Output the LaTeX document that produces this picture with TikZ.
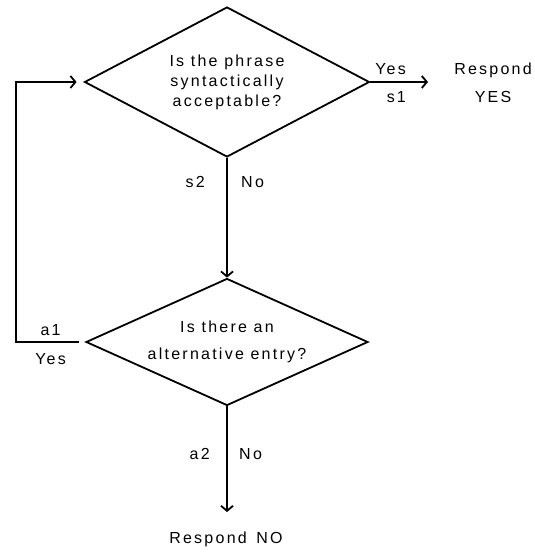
\documentclass[tikz,border=0pt]{standalone}
\usepackage{fontspec}
\setmainfont{Liberation Sans}[LetterSpace=14]
\usepackage{tikz}
\usetikzlibrary{arrows.meta, positioning, shapes.geometric, calc}

\begin{document}
\begin{tikzpicture}[x=1pt, y=1pt, line width=1.8pt, font=\fontsize{16}{20}\selectfont,
  decision/.style={draw, shape=diamond, inner sep=0pt, align=center},
  flow/.style={-{Straight Barb[length=5pt, width=12pt]}}]
  \useasboundingbox (0,0) rectangle (535,-552);
  \node[decision, aspect=2.2, minimum width=285pt, minimum height=150pt] (syntax) at (227,-82) {Is the phrase\\syntactically\\acceptable?};
  \node[decision, aspect=2.6, minimum width=282pt, minimum height=127pt, font=\fontsize{16}{27}\selectfont] (altentry) at (227,-342) {Is there an\\alternative entry?};
  \node[align=center, font=\fontsize{16}{28}\selectfont] (respyes) at (493,-83) {Respond\\YES};
  \node (respno) at (226,-539) {Respond\hspace{0.6em}NO};
  \coordinate (yesend) at (428,-82);
  \coordinate (noend) at (227,-512);
  \coordinate (loop) at (16,-342);

  \draw[flow] (syntax.east) -- node[above=3pt, pos=0.35] {Yes} node[below=5pt, pos=0.45] {s1} (yesend);
  \draw[flow] (syntax.south) -- node[pos=0.2, left=18pt] {s2} node[pos=0.2, right=10pt] {No} (altentry.north);
  \draw[flow] (altentry.south) -- node[pos=0.45, left=13pt] {a2} node[pos=0.45, right=8pt] {No} (noend);
  \draw[flow, shorten <=6pt, shorten >=7pt] (altentry.west) -- node[above=2pt] {a1} node[below=7pt] {Yes} (loop) |- (syntax.west);
\end{tikzpicture}
\end{document}
